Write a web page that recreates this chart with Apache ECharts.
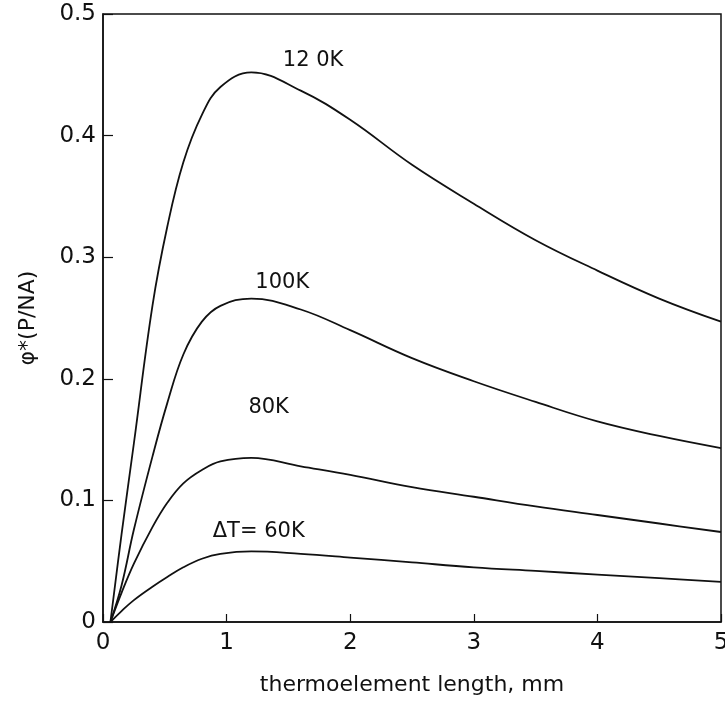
<!DOCTYPE html>
<html>
<head>
<meta charset="utf-8">
<script src="https://cdn.jsdelivr.net/npm/echarts@6/dist/echarts.min.js"></script>
<style>html,body{margin:0;padding:0;background:#fff;overflow:hidden}#c{width:725px;height:705px}</style>
</head>
<body>
<div id="c"></div>
<script>
var xs = [0.06, 0.15, 0.25, 0.4, 0.52, 0.65, 0.8, 0.95, 1.2, 1.6, 2.0, 2.5, 3.0, 3.5, 4.0, 4.5, 5.0];
var k120 = [0, 0.072, 0.147, 0.260, 0.325, 0.378, 0.417, 0.440, 0.452, 0.437, 0.413, 0.376, 0.344, 0.314, 0.289, 0.266, 0.247];
var k100 = [0, 0.030, 0.076, 0.136, 0.180, 0.220, 0.247, 0.260, 0.266, 0.257, 0.240, 0.217, 0.198, 0.181, 0.165, 0.153, 0.143];
var k80  = [0, 0.024, 0.048, 0.078, 0.098, 0.114, 0.125, 0.132, 0.135, 0.128, 0.121, 0.111, 0.103, 0.095, 0.088, 0.081, 0.074];
var k60  = [0, 0.009, 0.018, 0.029, 0.037, 0.045, 0.052, 0.056, 0.058, 0.056, 0.053, 0.049, 0.045, 0.042, 0.039, 0.036, 0.033];
var seriesNames = ['120K', '100K', '80K', 'ΔT= 60K'];
var labelTexts = ['12 0K', '100K', '80K', 'ΔT= 60K'];
var labelX = [1.70, 1.45, 1.34, 1.26];
var labelY = [0.462, 0.279, 0.176, 0.074];
var xTicks = ['0', '1', '2', '3', '4', '5'];
var yTicks = ['0', '0.1', '0.2', '0.3', '0.4', '0.5'];

var all = [k120, k100, k80, k60];
var font = 'DejaVu Sans';
var ink = '#111';
var series = all.map(function (vals, i) {
  return {
    name: seriesNames[i],
    type: 'line',
    smooth: 0.4,
    symbol: 'none',
    lineStyle: { color: ink, width: 1.8 },
    data: xs.map(function (x, j) { return [x, vals[j]]; }),
    markPoint: {
      symbol: 'circle', symbolSize: 0,
      label: { show: true, formatter: labelTexts[i], color: ink, fontSize: 21, fontFamily: font, position: 'inside' },
      data: [{ coord: [labelX[i], labelY[i]] }]
    }
  };
});

var chart = echarts.init(document.getElementById('c'), null, { renderer: 'canvas' });
chart.setOption({
  animation: false,
  backgroundColor: '#fff',
  grid: { left: 103, right: 4, top: 14, bottom: 83, outerBoundsMode: 'none', containLabel: false, show: true, borderColor: ink, borderWidth: 1.5, backgroundColor: 'transparent' },
  xAxis: {
    type: 'value', min: 0, max: 5, interval: 1,
    axisLine: { lineStyle: { color: ink, width: 1.5 } },
    axisTick: { inside: true, length: 8, lineStyle: { color: ink, width: 1.2 } },
    splitLine: { show: false },
    axisLabel: { color: ink, fontSize: 23, fontFamily: font, margin: 10, formatter: function (v) { return xTicks[Math.round(v)]; } },
    name: 'thermoelement length, mm', nameLocation: 'middle', nameGap: 52,
    nameTextStyle: { color: ink, fontSize: 22, fontFamily: font }
  },
  yAxis: {
    type: 'value', min: 0, max: 0.5, interval: 0.1,
    axisLine: { lineStyle: { color: ink, width: 1.5 } },
    axisTick: { inside: true, length: 10, lineStyle: { color: ink, width: 1.2 } },
    splitLine: { show: false },
    axisLabel: { color: ink, fontSize: 23, fontFamily: font, margin: 7, formatter: function (v) { return yTicks[Math.round(v * 10)]; } },
    name: 'φ*(P/NA)', nameLocation: 'middle', nameGap: 64, nameRotate: 90,
    nameTextStyle: { color: ink, fontSize: 22, fontFamily: font }
  },
  series: series
});
</script>
</body>
</html>
